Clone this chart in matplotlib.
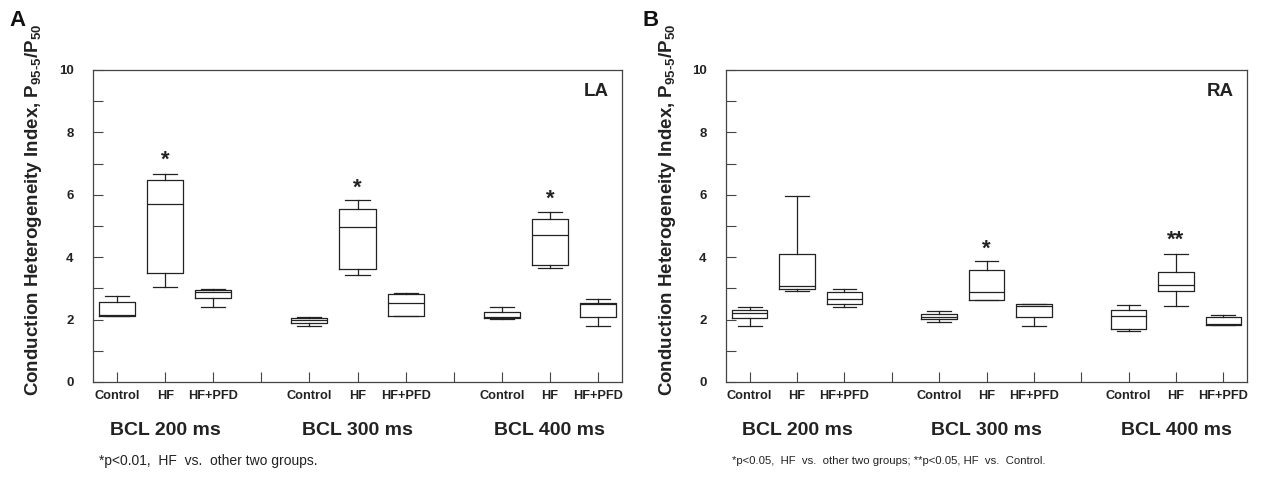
import matplotlib
matplotlib.use('Agg')
import matplotlib.pyplot as plt

plt.rcParams['font.family'] = ['Liberation Sans', 'DejaVu Sans']
plt.rcParams['mathtext.fontset'] = 'custom'
plt.rcParams['mathtext.rm'] = 'Liberation Sans:bold'
plt.rcParams['mathtext.bf'] = 'Liberation Sans:bold'
plt.rcParams['mathtext.it'] = 'Liberation Sans:bold'

groups = ['Control', 'HF', 'HF+PFD']
bcl_labels = ['BCL 200 ms', 'BCL 300 ms', 'BCL 400 ms']
positions = [1, 2, 3, 5, 6, 7, 9, 10, 11]

# box stats, order: BCL200 (Control, HF, HF+PFD), BCL300 ..., BCL400 ...
la_whislo = [2.12, 3.04, 2.40, 1.79, 3.42, 2.10, 2.03, 3.65, 1.81]
la_q1 = [2.12, 3.49, 2.70, 1.89, 3.61, 2.12, 2.05, 3.74, 2.07]
la_med = [2.15, 5.71, 2.89, 1.99, 4.96, 2.54, 2.07, 4.71, 2.51]
la_q3 = [2.55, 6.47, 2.94, 2.05, 5.55, 2.83, 2.23, 5.24, 2.53]
la_whishi = [2.77, 6.66, 2.98, 2.09, 5.84, 2.86, 2.41, 5.44, 2.67]

ra_whislo = [1.80, 2.93, 2.41, 1.92, 2.62, 1.79, 1.64, 2.43, 1.84]
ra_q1 = [2.06, 2.98, 2.49, 2.01, 2.62, 2.09, 1.71, 2.91, 1.84]
ra_med = [2.20, 3.09, 2.66, 2.08, 2.90, 2.44, 2.13, 3.10, 1.86]
ra_q3 = [2.31, 4.10, 2.89, 2.17, 3.59, 2.51, 2.32, 3.53, 2.07]
ra_whishi = [2.40, 5.95, 2.99, 2.26, 3.87, 2.51, 2.47, 4.11, 2.15]

# significance marks: (x position, y value, text)
la_marks = [(2, 7.1, '*'), (6, 6.2, '*'), (10, 5.85, '*')]
ra_marks = [(6, 4.25, '*'), (10, 4.55, '**')]

la_note = '*p<0.01,  HF  vs.  other two groups.'
ra_note = '*p<0.05,  HF  vs.  other two groups; **p<0.05, HF  vs.  Control.'
ylabel = 'Conduction Heterogeneity Index, P$_{95\u20105}$/P$_{50}$'

W, H = 1264, 478
fig = plt.figure(figsize=(W / 100, H / 100), dpi=100)


def panel(left, right, lo, q1, med, q3, hi, marks, tag, letter, note, note_size):
    top, bottom = 70, 382
    ax = fig.add_axes([left / W, 1 - bottom / H, (right - left) / W, (bottom - top) / H])
    stats = []
    for i in range(len(positions)):
        stats.append({'whislo': lo[i], 'q1': q1[i], 'med': med[i], 'q3': q3[i], 'whishi': hi[i]})
    line = dict(color='#222222', linewidth=0.9)
    ax.bxp(stats, positions=positions, widths=0.75, capwidths=0.5, showfliers=False,
           boxprops=line, whiskerprops=line, capprops=line,
           medianprops=dict(color='#222222', linewidth=0.9))
    ax.set_xlim(0.5, 11.5)
    ax.set_ylim(0, 10)
    ax.set_yticks([0, 2, 4, 6, 8, 10])
    ax.set_yticks([1, 3, 5, 7, 9], minor=True)
    ax.set_xticks(positions)
    ax.set_xticklabels(groups * 3)
    ax.set_xticks([4, 8], minor=True)
    ax.tick_params(which='both', direction='in', length=7, width=0.8, color='#444444')
    ax.tick_params(axis='y', pad=14, labelsize=9.5)
    ax.tick_params(axis='x', pad=6, labelsize=9.2)
    for lab in ax.get_xticklabels() + ax.get_yticklabels():
        lab.set_fontweight('bold')
        lab.set_color('#222222')
    for s in ax.spines.values():
        s.set_linewidth(0.9)
        s.set_color('#444444')
    for x, y, t in marks:
        ax.text(x, y, t, ha='center', va='center', fontsize=16, fontweight='bold', color='#222222')
    ax.text(0.975, 0.93, tag, transform=ax.transAxes, ha='right', va='center',
            fontsize=13.5, fontweight='bold', color='#222222')
    for j, lab in enumerate(bcl_labels):
        ax.text(positions[3 * j + 1], -1.55, lab, ha='center', va='center',
                fontsize=14, fontweight='bold', color='#222222')
    ax.text(left / W + 0.005, 1 - 461 / H, note, transform=fig.transFigure,
            ha='left', va='center', fontsize=note_size, color='#222222')
    fig.text((left - 84) / W, 1 - 21 / H, letter, ha='left', va='center',
             fontsize=16, fontweight='bold', color='#111111')
    fig.text((left - 59) / W, 1 - 210 / H, ylabel, rotation=90, ha='center', va='center',
             fontsize=13.5, fontweight='bold', color='#222222')
    return ax


panel(93, 622, la_whislo, la_q1, la_med, la_q3, la_whishi, la_marks, 'LA', 'A', la_note, 10)
panel(726, 1247, ra_whislo, ra_q1, ra_med, ra_q3, ra_whishi, ra_marks, 'RA', 'B', ra_note, 8.2)

fig.savefig('out.png', dpi=100, facecolor='white')
